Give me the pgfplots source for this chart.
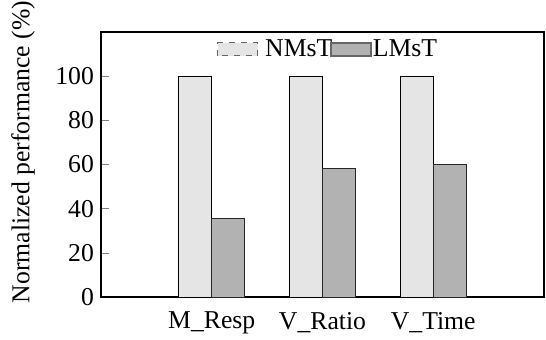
\documentclass[border=0pt]{standalone}
\usepackage{fontspec}
\setmainfont{Liberation Serif}
\usepackage{pgfplots}
\pgfplotsset{compat=1.18}
\begin{document}
\begin{tikzpicture}[font=\fontsize{12.85}{15}\selectfont]
\useasboundingbox (-50.5pt,-21pt) rectangle (222.5pt,148.5pt);
\begin{axis}[
  at={(0,0)}, anchor=south west,
  scale only axis, width=221.5pt, height=132.5pt,
  xmin=-1, xmax=3, ymin=0, ymax=120,
  xtick={0,1,2}, xticklabels={M\_Resp,V\_Ratio,V\_Time},
  xtick style={draw=none},
  ytick={0,20,40,60,80,100},
  ytick pos=left, tick align=inside, major tick length=4pt,
  /pgf/number format/assume math mode=true,
  tick label style={font=\fontsize{12.85}{15}\selectfont},
  axis line style={line width=0.8pt},
  ylabel={Normalized performance (\%)},
  ylabel style={at={(axis description cs:-0.176,0.547)}, anchor=center, font=\fontsize{12.85}{15}\selectfont},
  ybar, bar width=0.3,
  legend columns=2,
  legend style={draw=none, fill=none, at={(0.512,0.985)}, anchor=north,
    font=\fontsize{12.85}{15}\selectfont,
    /tikz/every odd column/.append style={column sep=3pt},
    /tikz/every even column/.append style={column sep=-1.5pt},
    inner sep=0pt, nodes={inner xsep=0.5pt, inner ysep=1.5pt}},
  legend image code/.code={\draw[#1] (0pt,-3.25pt) rectangle (20pt,3.25pt);},
]
\addplot[bar shift=-0.15, fill=black!10, draw=black, line width=0.5pt,
  legend image post style={draw=black!60, dashed, line width=0.4pt}]
  coordinates {(0,100) (1,100) (2,100)};
\addlegendentry{NMsT}
\addplot[bar shift=0.15, fill=black!30, draw=black!85, line width=0.5pt,
  legend image post style={draw=black!60, line width=0.8pt}]
  coordinates {(0,35.6) (1,58.2) (2,60.0)};
\addlegendentry{\hspace{-3pt}LMsT}
\end{axis}
\end{tikzpicture}
\end{document}
